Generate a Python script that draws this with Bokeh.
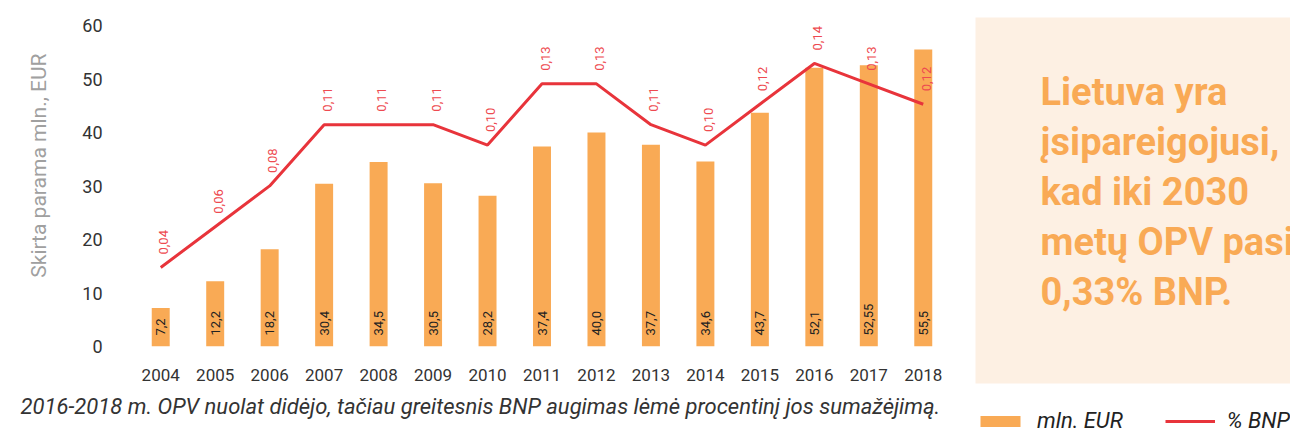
from math import pi
from bokeh.plotting import figure
from bokeh.layouts import row
from bokeh.models import (Range1d, FactorRange, Label, BoxAnnotation, Legend,
                          LegendItem, ColumnDataSource, FixedTicker, Title)
from bokeh.core.properties import value
from bokeh.embed import file_html
from bokeh.resources import INLINE

# ---- data ----
years = [str(y) for y in range(2004, 2019)]
eur = [7.2, 12.2, 18.2, 30.4, 34.5, 30.5, 28.2, 37.4, 40.0, 37.7, 34.6, 43.7, 52.1, 52.55, 55.5]
bnp = [0.04, 0.06, 0.08, 0.11, 0.11, 0.11, 0.10, 0.13, 0.13, 0.11, 0.10, 0.12, 0.14, 0.13, 0.12]
eur_labels = ["7,2", "12,2", "18,2", "30,4", "34,5", "30,5", "28,2", "37,4", "40,0",
              "37,7", "34,6", "43,7", "52,1", "52,55", "55,5"]
bnp_labels = [f"{v:.2f}".replace(".", ",") for v in bnp]
y_ticks = [0, 10, 20, 30, 40, 50, 60]
y_title = "Skirta parama mln., EUR"
caption = "2016-2018 m. OPV nuolat didėjo, tačiau greitesnis BNP augimas lėmė procentinį jos sumažėjimą."
panel_lines = ["Lietuva yra", "įsipareigojusi,", "kad iki 2030", "metų OPV pasiekti", "0,33% BNP."]
legend_labels = ["mln. EUR", "% BNP"]

FONT = "Roboto"
ORANGE = "#F9AA55"
RED = "#E8343B"

src = ColumnDataSource(dict(year=years, eur=eur, bnp=bnp, eur_lab=eur_labels, bnp_lab=bnp_labels))

# ---------------- main chart ----------------
p = figure(width=960, height=432, x_range=FactorRange(factors=years, range_padding=0),
           y_range=Range1d(0, 60), output_backend="svg", toolbar_location=None, title=None,
           min_border_left=133, min_border_right=10, min_border_top=25, min_border_bottom=86)
p.frame_align = False
p.extra_y_ranges = {"pct": Range1d(0.0013, 0.1586)}
p.outline_line_color = None
p.grid.visible = False

bars = p.vbar(x="year", top="eur", width=0.33, source=src, fill_color=ORANGE, line_color=None)
line = p.line(x="year", y="bnp", source=src, y_range_name="pct", line_color=RED, line_width=3)

p.text(x="year", y=0, text="eur_lab", source=src, angle=pi / 2, text_align="left",
       text_baseline="middle", y_offset=-11, text_font=value(FONT), text_font_size="13px",
       text_color="#222222")
p.text(x="year", y="bnp", text="bnp_lab", source=src, y_range_name="pct", angle=pi / 2,
       text_align="left", text_baseline="middle", y_offset=-13, x_offset=3,
       text_font=value(FONT), text_font_size="13px", text_color="#EE4A50")

for ax in (p.xaxis[0], p.yaxis[0]):
    ax.axis_line_color = None
    ax.major_tick_line_color = None
    ax.minor_tick_line_color = None
    ax.major_tick_out = 0
    ax.major_tick_in = 0
    ax.major_label_text_font = FONT
    ax.major_label_text_color = "#333333"
p.yaxis[0].major_label_text_font_size = "18px"
p.xaxis[0].major_label_text_font_size = "17px"
p.yaxis[0].ticker = FixedTicker(ticks=y_ticks)
p.yaxis[0].major_label_standoff = 31
p.xaxis[0].major_label_standoff = 22

p.add_layout(Title(text=y_title, align="right", offset=28, standoff=53, vertical_align="top",
                   text_font=FONT, text_font_size="21px", text_font_style="normal",
                   text_color="#A0A0A0"), "left")
p.add_layout(Title(text=caption, align="left", offset=-113, standoff=16, text_font=FONT,
                   text_font_size="22px", text_font_style="italic", text_color="#333333"), "below")

# ---------------- right panel ----------------
q = figure(width=330, height=432, x_range=Range1d(0, 1), y_range=Range1d(0, 1),
           output_backend="svg", toolbar_location=None, title=None,
           x_axis_location=None, y_axis_location=None,
           min_border_left=0, min_border_right=0, min_border_top=0, min_border_bottom=0)
q.frame_align = False
q.outline_line_color = None
q.grid.visible = False

q.add_layout(BoxAnnotation(left=15, right=330, top=17, bottom=383,
                           left_units="canvas", right_units="canvas", top_units="canvas",
                           bottom_units="canvas", fill_color="#FDF0E3", fill_alpha=1,
                           line_color=None, level="underlay"))

for i, t in enumerate(panel_lines):
    q.add_layout(Label(x=80, y=91 + 50 * i, x_units="canvas", y_units="canvas", text=t,
                       text_align="left", text_baseline="alphabetic", text_font=FONT,
                       text_font_style="bold", text_font_size="38px", text_color=ORANGE))

# legend swatches styled like the chart's two series (zero-size, legend only)
lb = q.vbar(x=[0.5], top=[0], bottom=[0], width=0, fill_color=ORANGE, line_color=None)
ll = q.line(x=[0.5, 0.5], y=[0, 0], line_color=RED, line_width=3)
legend = Legend(items=[LegendItem(label=legend_labels[0], renderers=[lb]),
                       LegendItem(label=legend_labels[1], renderers=[ll])],
                orientation="horizontal", location=(15, -1), glyph_width=50, glyph_height=14,
                label_standoff=12, spacing=42, padding=0, margin=0, border_line_color=None,
                background_fill_alpha=0, label_text_font=FONT, label_text_font_style="italic",
                label_text_font_size="22px", label_text_color="#222222", label_height=14,
                label_text_baseline="alphabetic")
q.add_layout(legend)

layout = row(p, q)
open("out.html", "w").write(file_html(layout, INLINE))
